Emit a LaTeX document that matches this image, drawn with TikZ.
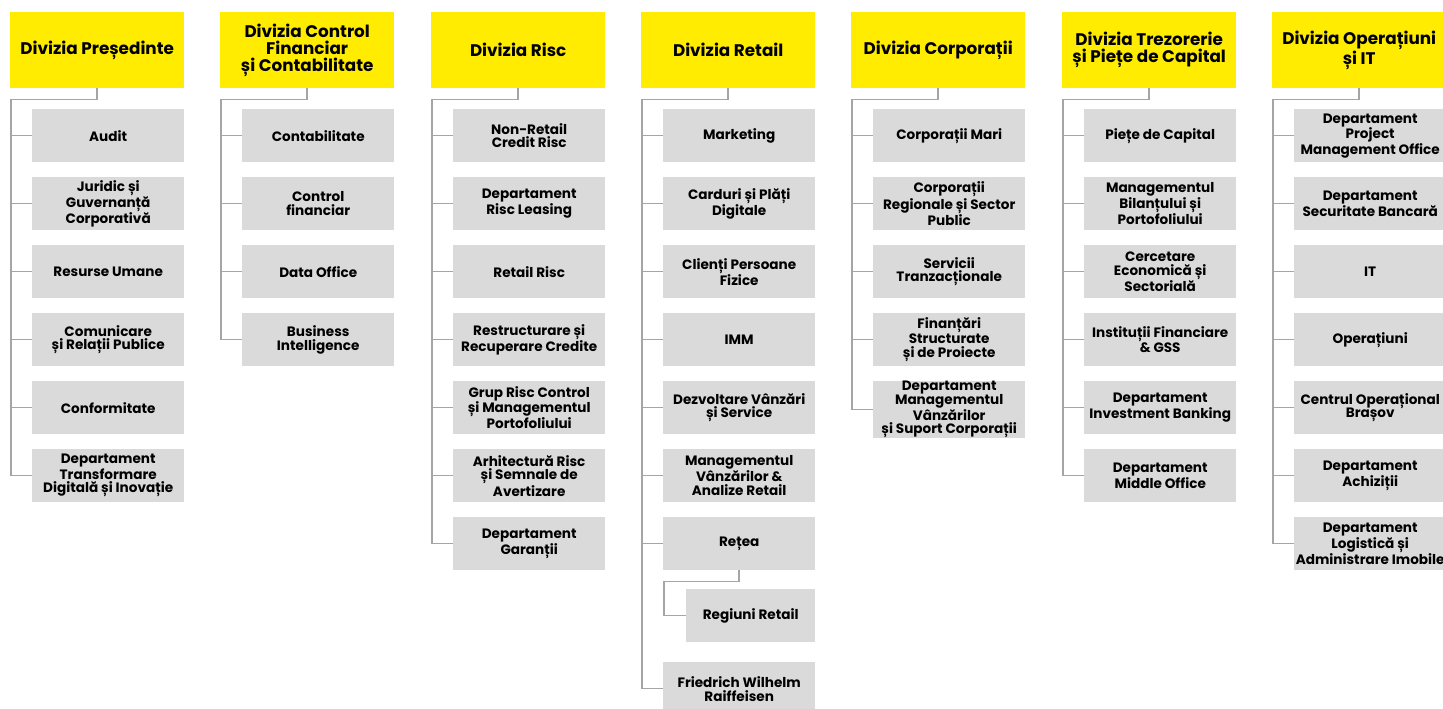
\documentclass[tikz,border=0pt]{standalone}
\usepackage{fontspec}
\setsansfont{Poppins}
\usepackage{tikz}
\usetikzlibrary{positioning,calc}
\definecolor{divyellow}{RGB}{255,236,0}
\definecolor{deptgray}{RGB}{218,218,218}
\definecolor{linkgray}{RGB}{165,165,165}

\tikzset{
  division/.style={fill=divyellow, anchor=north west, minimum width=174pt, minimum height=76pt,
    inner sep=0pt, align=center, font=\sffamily\bfseries\fontsize{16.8}{16.8}\selectfont},
  dept/.style={fill=deptgray, anchor=north west, minimum width=152pt, minimum height=53pt,
    inner sep=0pt, align=center, font=\sffamily\bfseries\fontsize{13.6}{13.8}\selectfont},
  link/.style={draw=linkgray, line width=1.5pt},
}

\begin{document}
\begin{tikzpicture}[x=1pt,y=-1pt]
    \useasboundingbox (0,0) rectangle (1443,709);

    % Divizia Presedinte
    \node[division] (pres) at (10,12) {Divizia Președinte};
    \coordinate (presbus) at ($(pres.south west)+(1,11)$);
    \draw[link] (pres.south) |- (presbus);
    \foreach \i/\txt in {1/Audit, 2/{Juridic și\\Guvernanță\\Corporativă}, 3/Resurse Umane,
        4/{Comunicare\\și Relații Publice}, 5/Conformitate, 6/{Departament\\Transformare\\Digitală și Inovație}} {
        \node[dept] (pres\i) at (32,{109+68*(\i-1)}) {\txt};
        \draw[link] (presbus) |- (pres\i.west);
    }

    % Divizia Control Financiar
    \node[division] (ctrl) at (220,12) {Divizia Control\\Financiar\\și Contabilitate};
    \coordinate (ctrlbus) at ($(ctrl.south west)+(1,11)$);
    \draw[link] (ctrl.south) |- (ctrlbus);
    \foreach \i/\txt in {1/Contabilitate, 2/{Control\\financiar}, 3/Data Office, 4/{Business\\Intelligence}} {
        \node[dept] (ctrl\i) at (242,{109+68*(\i-1)}) {\txt};
        \draw[link] (ctrlbus) |- (ctrl\i.west);
    }

    % Divizia Risc
    \node[division] (risc) at (431,12) {Divizia Risc};
    \coordinate (riscbus) at ($(risc.south west)+(1,11)$);
    \draw[link] (risc.south) |- (riscbus);
    \foreach \i/\txt in {1/{Non-Retail\\Credit Risc}, 2/{Departament\\Risc Leasing}, 3/Retail Risc,
        4/{Restructurare și\\Recuperare Credite}, 5/{Grup Risc Control\\și Managementul\\Portofoliului},
        6/{Arhitectură Risc\\și Semnale de\\Avertizare}, 7/{Departament\\Garanții}} {
        \node[dept] (risc\i) at (453,{109+68*(\i-1)}) {\txt};
        \draw[link] (riscbus) |- (risc\i.west);
    }

    % Divizia Retail
    \node[division] (ret) at (641,12) {Divizia Retail};
    \coordinate (retbus) at ($(ret.south west)+(1,11)$);
    \draw[link] (ret.south) |- (retbus);
    \foreach \i/\txt in {1/Marketing, 2/{Carduri și Plăți\\Digitale}, 3/{Clienți Persoane\\Fizice}, 4/IMM,
        5/{Dezvoltare Vânzări\\și Service}, 6/{Managementul\\Vânzărilor \&\\Analize Retail}, 7/Rețea} {
        \node[dept] (ret\i) at (663,{109+68*(\i-1)}) {\txt};
        \draw[link] (retbus) |- (ret\i.west);
    }
    % sub-unit of Retea
    \node[dept, minimum width=129pt] (ret8) at (686,589) {Regiuni Retail};
    \coordinate (retbus2) at ($(ret7.south west)+(1,11)$);
    \draw[link] (ret7.south) |- (retbus2) |- (ret8.west);
    \node[dept] (ret9) at (663,662) {Friedrich Wilhelm\\Raiffeisen};
    \draw[link] (retbus) |- (ret9.west);

    % Divizia Corporatii
    \node[division] (corp) at (851,12) {Divizia Corporații};
    \coordinate (corpbus) at ($(corp.south west)+(1,11)$);
    \draw[link] (corp.south) |- (corpbus);
    \foreach \i/\txt in {1/Corporații Mari, 2/{Corporații\\Regionale și Sector\\Public},
        3/{Servicii\\Tranzacționale}, 4/{Finanțări\\Structurate\\și de Proiecte},
        5/{Departament\\Managementul\\Vânzărilor\\și Suport Corporații}} {
        \node[dept] (corp\i) at (873,{109+68*(\i-1)}) {\txt};
        \draw[link] (corpbus) |- (corp\i.west);
    }

    % Divizia Trezorerie
    \node[division] (trez) at (1062,12) {Divizia Trezorerie\\și Piețe de Capital};
    \coordinate (trezbus) at ($(trez.south west)+(1,11)$);
    \draw[link] (trez.south) |- (trezbus);
    \foreach \i/\txt in {1/Piețe de Capital, 2/{Managementul\\Bilanțului și\\Portofoliului},
        3/{Cercetare\\Economică și\\Sectorială}, 4/{Instituții Financiare\\\& GSS},
        5/{Departament\\Investment Banking}, 6/{Departament\\Middle Office}} {
        \node[dept] (trez\i) at (1084,{109+68*(\i-1)}) {\txt};
        \draw[link] (trezbus) |- (trez\i.west);
    }

    % Divizia Operatiuni si IT
    \node[division] (ops) at (1272,12) {Divizia Operațiuni\\și IT};
    \coordinate (opsbus) at ($(ops.south west)+(1,11)$);
    \draw[link] (ops.south) |- (opsbus);
    \foreach \i/\txt in {1/{Departament\\Project\\Management Office}, 2/{Departament\\Securitate Bancară},
        3/IT, 4/Operațiuni, 5/{Centrul Operațional\\Brașov}, 6/{Departament\\Achiziții},
        7/{Departament\\Logistică și\\Administrare Imobile}} {
        \node[dept] (ops\i) at (1294,{109+68*(\i-1)}) {\txt};
        \draw[link] (opsbus) |- (ops\i.west);
    }

\end{tikzpicture}
\end{document}
